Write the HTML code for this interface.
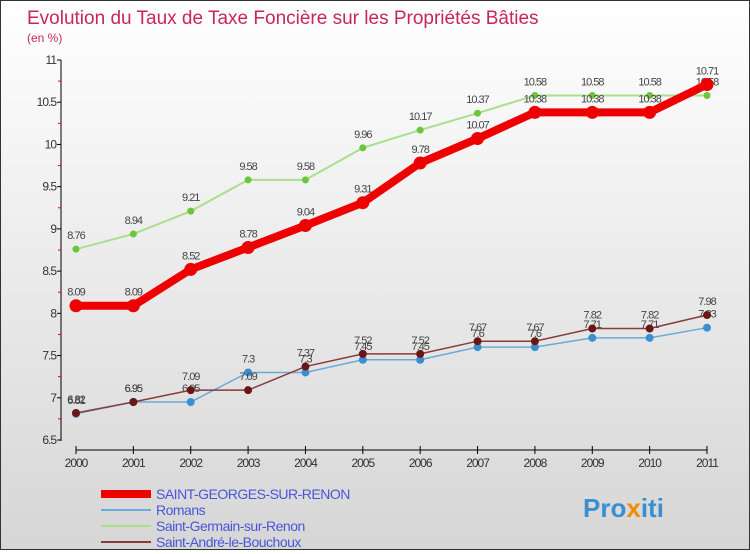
<!DOCTYPE html>
<html><head><meta charset="utf-8"><style>
body{margin:0;width:750px;height:550px;overflow:hidden;font-family:"Liberation Sans",sans-serif}
#wrap{position:relative;width:748px;height:548px;border:1px solid #333;background:linear-gradient(#ffffff,#d6d6d6)}
</style></head><body>
<div id="wrap">
<svg id="chart" width="748" height="548"></svg>
</div>
<script>
const years=["2000","2001","2002","2003","2004","2005","2006","2007","2008","2009","2010","2011"];
const stGeorges=[8.09,8.09,8.52,8.78,9.04,9.31,9.78,10.07,10.38,10.38,10.38,10.71];
const romans=[6.81,6.95,6.95,7.3,7.3,7.45,7.45,7.6,7.6,7.71,7.71,7.83];
const stGermain=[8.76,8.94,9.21,9.58,9.58,9.96,10.17,10.37,10.58,10.58,10.58,10.58];
const stAndre=[6.82,6.95,7.09,7.09,7.37,7.52,7.52,7.67,7.67,7.82,7.82,7.98];
const yTicks=[6.5,7,7.5,8,8.5,9,9.5,10,10.5,11];
const names=["SAINT-GEORGES-SUR-RENON","Romans","Saint-Germain-sur-Renon","Saint-André-le-Bouchoux"];
const NS="http://www.w3.org/2000/svg";
const svg=document.getElementById('chart');
const X=i=>75+i*(631/11);
const Y=v=>59+(11-v)*(380/4.5);
function mk(t,a,p){const e=document.createElementNS(NS,t);for(const k in a)e.setAttribute(k,a[k]);(p||svg).appendChild(e);return e;}
const title=mk('text',{x:26,y:23,fill:'#c8265a','font-size':19});title.textContent='Evolution du Taux de Taxe Foncière sur les Propriétés Bâties';


const sub=mk('text',{x:26,y:41,fill:'#c8265a','font-size':12});sub.textContent='(en %)';


mk('line',{x1:60,y1:59,x2:60,y2:440,stroke:'#000'});
mk('line',{x1:75,y1:449,x2:706,y2:449,stroke:'#000'});
yTicks.forEach(v=>{mk('line',{x1:56,y1:Y(v),x2:60,y2:Y(v),stroke:'#000'});
 const t=mk('text',{x:55,y:Y(v)+4,'text-anchor':'end','font-size':12,fill:'#333','letter-spacing':'-1'});t.textContent=String(v);
 
 
 if(v<11)mk('line',{x1:57,y1:Y(v+0.25),x2:60,y2:Y(v+0.25),stroke:'#e00'});});
years.forEach((y,i)=>{mk('line',{x1:X(i),y1:445,x2:X(i),y2:453,stroke:'#000'});
 const t=mk('text',{x:X(i),y:466,'text-anchor':'middle','font-size':12,fill:'#333','letter-spacing':'-1'});t.textContent=y;
 
 });
function series(data,color,w,r,fill,name){
 const g=mk('g',{});
 
 
 mk('polyline',{points:data.map((v,i)=>X(i)+','+Y(v)).join(' '),fill:'none',stroke:color,'stroke-width':w},g);
 data.forEach((v,i)=>{const c=mk('circle',{cx:X(i),cy:Y(v),r:r,fill:fill},g);
  
  
  const t=mk('text',{x:X(i),y:Y(v)-10,'text-anchor':'middle','font-size':11,fill:'#444','letter-spacing':'-1'},g);t.textContent=String(v);});
}
series(stGermain,'#a8e08c',2,3.5,'#6cc63a','series-saint-germain');
series(stGeorges,'#ee0000',8,6.5,'#ee0000','series-saint-georges');
series(romans,'#6aaad8',1.5,4,'#3a8fd0','series-romans');
series(stAndre,'#8a3a3a',1.5,4,'#6b1515','series-saint-andre');
const lc=['#ee0000','#6aaad8','#a8e08c','#8a3a3a'],lw=[8,2,2,2];
names.forEach((n,i)=>{const yy=493+i*16;
 const l=mk('line',{x1:100,y1:yy,x2:150,y2:yy,stroke:lc[i],'stroke-width':lw[i]});
 const t=mk('text',{x:155,y:yy+5,'font-size':14,fill:'#4a56d8','letter-spacing':'-0.5'});t.textContent=n;
 
 });
const p=mk('text',{x:582,y:516,'font-size':26,'font-weight':'bold',fill:'#3a8fd0'});p.innerHTML='Pro<tspan fill="#f08a00">x</tspan>iti';


</script>
</body></html>
